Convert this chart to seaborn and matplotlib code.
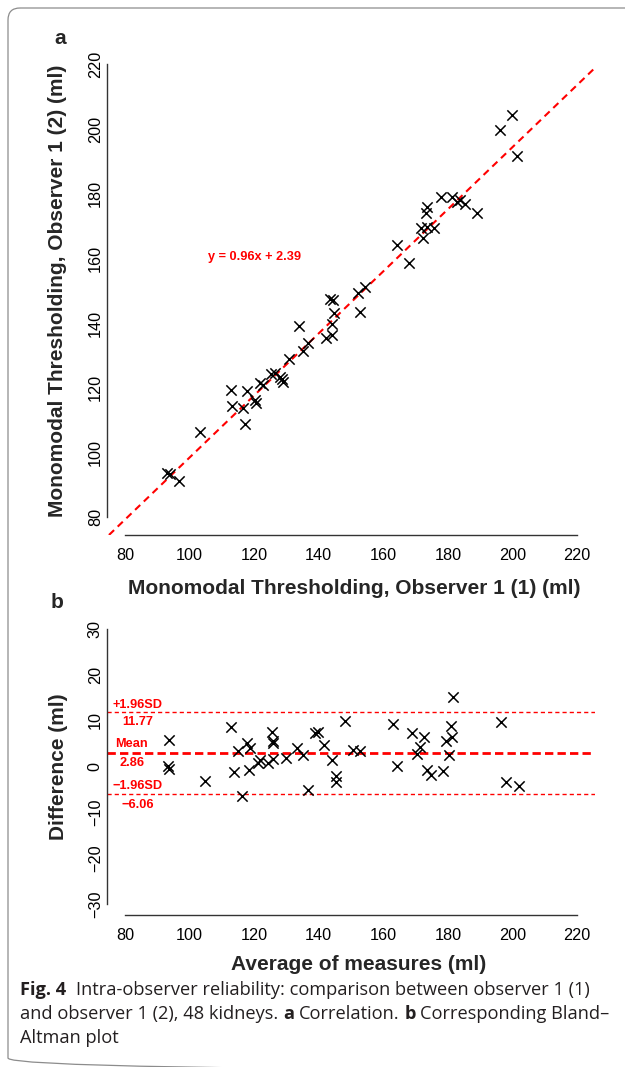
import matplotlib
matplotlib.use("Agg")
import matplotlib.pyplot as plt
import seaborn as sns
import pandas as pd
from matplotlib.patches import FancyBboxPatch

# ---------------- data ----------------
obs1_first = [93.1, 94.0, 96.6, 103.2, 112.8, 113.2, 116.6, 117.2, 117.9, 120.2,
              120.6, 121.8, 122.6, 125.1, 126.4, 128.0, 128.5, 129.0, 130.9, 133.9,
              135.2, 136.8, 142.4, 144.0, 144.0, 143.5, 144.3, 144.7, 152.2, 154.4,
              152.8, 164.3, 167.9, 171.8, 173.4, 175.8, 173.4, 173.2, 172.4, 177.8,
              181.4, 182.7, 183.7, 185.3, 189.1, 196.3, 199.9, 201.5]
obs1_second = [93.6, 93.2, 91.0, 106.3, 119.2, 114.3, 113.6, 108.7, 119.0, 116.1,
               115.3, 121.3, 120.8, 124.2, 124.6, 123.3, 122.8, 121.8, 128.8, 139.0,
               131.3, 133.7, 135.5, 136.3, 139.7, 147.3, 147.1, 143.2, 149.2, 151.1,
               143.3, 164.2, 158.6, 169.3, 169.8, 169.5, 175.8, 173.9, 166.2, 179.1,
               179.1, 177.5, 178.0, 176.8, 173.9, 199.7, 204.3, 191.8]

ba_mean = [93.7, 93.2, 93.7, 104.8, 112.8, 113.7, 114.9, 116.1, 117.7, 118.7,
           118.5, 121.3, 121.8, 124.4, 125.4, 125.7, 125.9, 125.7, 129.8, 133.3,
           135.2, 136.6, 138.8, 139.9, 141.7, 144.0, 145.5, 145.5, 148.1, 150.7,
           152.8, 163.1, 164.1, 168.9, 172.6, 171.3, 170.5, 173.4, 174.7, 178.4,
           179.4, 181.0, 181.2, 180.3, 181.5, 196.6, 198.0, 202.0]
ba_diff = [5.66, 0.15, -0.58, -3.1, 8.58, -1.3, 3.27, -6.4, 5.1, 4.0,
           -0.87, 0.74, 1.46, 0.74, 7.4, 5.45, 5.1, 1.6, 1.8, 4.0,
           2.55, -5.2, 7.3, 7.4, 4.7, 1.46, -2.2, -3.5, 9.96, 3.6,
           3.27, 9.2, 0.15, 7.3, 6.3, 4.1, 2.7, -0.72, -1.96, -0.94,
           5.45, 8.7, 6.4, 2.4, 15.1, 9.67, -3.5, -4.36]

reg_slope = 0.96
reg_intercept = 2.39
mean_diff = 2.86
upper_loa = 11.77
lower_loa = -6.06

x_ticks = [80, 100, 120, 140, 160, 180, 200, 220]
y_ticks_a = [80, 100, 120, 140, 160, 180, 200, 220]
y_ticks_b = [-30, -20, -10, 0, 10, 20, 30]

df_a = pd.DataFrame({"first": obs1_first, "second": obs1_second})
df_b = pd.DataFrame({"mean": ba_mean, "diff": ba_diff})

# ---------------- style ----------------
sns.set_theme(style="white")
plt.rcParams["font.family"] = ["Liberation Sans", "DejaVu Sans"]
plt.rcParams["axes.unicode_minus"] = True

W, H = 625, 1067
fig = plt.figure(figsize=(W / 100, H / 100), dpi=100)
fig.patch.set_facecolor("white")

# background axes in pixel coordinates (frame, caption, panel letters)
bg = fig.add_axes([0, 0, 1, 1], zorder=-1)
bg.set_xlim(0, W)
bg.set_ylim(H, 0)
bg.axis("off")

frame = FancyBboxPatch((8, 8), 700, 1062, boxstyle="round,pad=0,rounding_size=12",
                       facecolor="none", edgecolor="#8c8c8c", lw=0.9, clip_on=False)
bg.add_patch(frame)

TICK_FS = 11.7
LAB_FS = 15
AXC = "#333333"


def style_axis(ax, yticks, ylim):
    ax.set_facecolor("none")
    ax.set_xlim(74.4, 225.6)
    ax.set_ylim(*ylim)
    ax.set_xticks(x_ticks)
    ax.set_yticks(yticks)
    for s in ["top", "right"]:
        ax.spines[s].set_visible(False)
    ax.spines["bottom"].set_bounds(x_ticks[0], x_ticks[-1])
    ax.spines["left"].set_bounds(yticks[0], yticks[-1])
    for s in ["bottom", "left"]:
        ax.spines[s].set_color(AXC)
        ax.spines[s].set_linewidth(1.0)
    ax.tick_params(axis="both", direction="out", length=5.5, width=1.0, color=AXC,
                   labelsize=TICK_FS, labelcolor="black")
    ax.tick_params(axis="x", pad=3.5)
    ax.tick_params(axis="y", pad=-2.5)
    for lab in ax.get_yticklabels():
        lab.set_rotation(90)
        lab.set_va("center")
        lab.set_ha("right")


# ---------------- panel a ----------------
ax1 = fig.add_axes([107 / W, 1 - 535 / H, 488 / W, 488.6 / H])
sns.scatterplot(data=df_a, x="first", y="second", ax=ax1, marker="x", color="black",
                s=55, linewidth=1.1, zorder=3)
ax1.axline((0, reg_intercept), slope=reg_slope, color="red", lw=1.5,
           dashes=(3.4, 2.4), zorder=2)
style_axis(ax1, y_ticks_a, (74.4, 225.6))
ax1.text(120, 160.4, f"y = {reg_slope:.2f}x + {reg_intercept:.2f}", color="red",
         fontsize=9.2, fontweight="bold", ha="center", va="center")
ax1.set_xlabel("Monomodal Thresholding, Observer 1 (1) (ml)", fontsize=LAB_FS,
               fontweight="bold", va="center")
ax1.xaxis.set_label_coords(0.507, (535 - 588) / 488.6)
ax1.set_ylabel("Monomodal Thresholding, Observer 1 (2) (ml)", fontsize=LAB_FS,
               fontweight="bold", va="center")
ax1.yaxis.set_label_coords((58 - 107) / 488, 0.5)

# ---------------- panel b ----------------
ax2 = fig.add_axes([107 / W, 1 - 915 / H, 488 / W, 297.4 / H])
sns.scatterplot(data=df_b, x="mean", y="diff", ax=ax2, marker="x", color="black",
                s=55, linewidth=1.1, zorder=3)
ax2.axhline(mean_diff, color="red", lw=2.0, dashes=(3, 1.5), zorder=2)
ax2.axhline(upper_loa, color="red", lw=1.0, dashes=(3, 2.2), zorder=2)
ax2.axhline(lower_loa, color="red", lw=1.0, dashes=(3, 2.2), zorder=2)
style_axis(ax2, y_ticks_b, (-32.4, 32.4))
red_kw = dict(color="red", fontsize=9.2, fontweight="bold", ha="center", va="center")
ax2.text(83.9, 13.44, "+1.96SD", **red_kw)
ax2.text(84.0, 9.59, f"{upper_loa:.2f}", **red_kw)
ax2.text(82.1, 4.95, "Mean", **red_kw)
ax2.text(82.1, 0.81, f"{mean_diff:.2f}", **red_kw)
ax2.text(83.8, -4.2, "\u22121.96SD", **red_kw)
ax2.text(83.8, -8.34, f"\u2212{abs(lower_loa):.2f}", **red_kw)
ax2.set_xlabel("Average of measures (ml)", fontsize=LAB_FS, fontweight="bold", va="center")
ax2.xaxis.set_label_coords((359 - 107) / 488, (915 - 965) / 297.4)
ax2.set_ylabel("Difference (ml)", fontsize=LAB_FS, fontweight="bold", va="center")
ax2.yaxis.set_label_coords((58 - 107) / 488, 0.5)

# panel letters
bg.text(60, 38, "a", fontsize=15, fontweight="bold", ha="center", va="center")
bg.text(57, 602, "b", fontsize=15, fontweight="bold", ha="center", va="center")

# ---------------- caption ----------------
renderer = fig.canvas.get_renderer()
CAP_FAM = ["Open Sans", "DejaVu Sans"]


def text_w(s, size, weight):
    t = bg.text(0, 0, s, fontsize=size, fontweight=weight, family=CAP_FAM)
    w = t.get_window_extent(renderer).width
    t.remove()
    return w


lines = [
    [("Fig. 4", "bold"), (" ", "normal"), ("Intra-observer reliability: comparison between observer 1 (1)", "normal")],
    [("and observer 1 (2), 48 kidneys.", "normal"), ("a", "bold"), ("Correlation.", "normal"),
     ("b", "bold"), ("Corresponding Bland\u2013", "normal")],
    [("Altman plot", "normal")],
]
targets = [613 - 20, 608 - 20]


def line_width(runs, size):
    sp = text_w("x x", size, "normal") - text_w("xx", size, "normal")
    total = 0
    for i, (s, wgt) in enumerate(runs):
        if s == " ":
            total += sp * 2
        else:
            total += text_w(s, size, wgt)
            if i < len(runs) - 1 and runs[i + 1][0] != " ":
                total += sp
    return total, sp


base = 10.0
cap_size = min(base * tgt / line_width(ln, base)[0] for ln, tgt in zip(lines[:2], targets))

baselines = [995, 1019, 1043]
for runs, yb in zip(lines, baselines):
    _, sp = line_width(runs, cap_size)
    x = 20
    for i, (s, wgt) in enumerate(runs):
        if s == " ":
            x += sp * 2
            continue
        t = bg.text(x, yb, s, fontsize=cap_size, fontweight=wgt, family=CAP_FAM,
                    ha="left", va="baseline", color="#231f20")
        x += t.get_window_extent(renderer).width
        if i < len(runs) - 1 and runs[i + 1][0] != " ":
            x += sp

fig.savefig("out.png", dpi=100, facecolor="white")
